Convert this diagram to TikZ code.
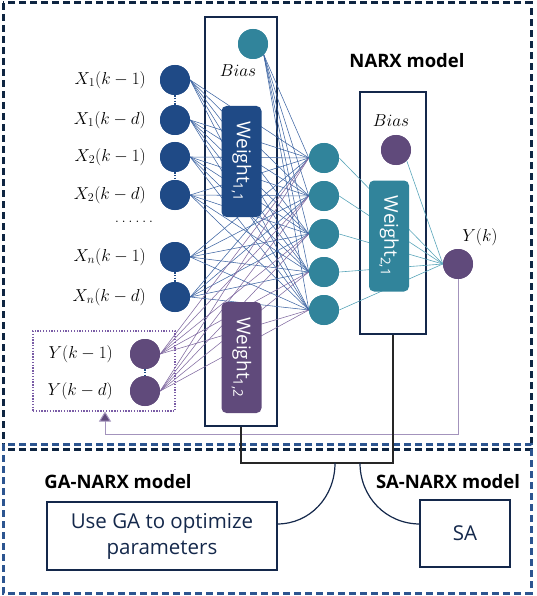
\documentclass[tikz,border=0pt]{standalone}
\usepackage{fontspec}
\newfontfamily\osans{Open Sans}
\usetikzlibrary{arrows.meta}
\definecolor{cblue}{HTML}{1F4A86}
\definecolor{cteal}{HTML}{31849B}
\definecolor{cpurple}{HTML}{604A7B}
\definecolor{cframe}{HTML}{14284B}
\definecolor{cdashdark}{HTML}{0E2542}
\definecolor{cdashblue}{HTML}{2C5590}
\definecolor{cxline}{HTML}{3F66A3}
\definecolor{cyline}{HTML}{8069A0}
\definecolor{ctline}{HTML}{5AA6BA}
\definecolor{cfb}{HTML}{A393BC}
\definecolor{cybox}{HTML}{7A5CA6}
\begin{document}
\begin{tikzpicture}[x=1pt,y=-1pt,
  neuron/.style={circle, minimum size=30pt, inner sep=0pt},
  inN/.style={neuron, fill=cblue},
  hidN/.style={neuron, fill=cteal},
  purN/.style={neuron, fill=cpurple},
  wbox/.style={rounded corners=5pt, minimum width=111pt, minimum height=40pt, inner sep=0pt, rotate=-90, text=white, font=\osans\fontsize{19}{22}\selectfont},
  frame/.style={draw=cframe, line width=1.5pt, inner sep=0pt},
  lbl/.style={font=\fontsize{17}{20}\selectfont, inner sep=0pt},
  title/.style={font=\osans\bfseries\fontsize{18.5}{22}\selectfont, inner sep=0pt},
  xline/.style={draw=cxline, line width=0.55pt},
  yline/.style={draw=cyline, line width=0.55pt},
  tline/.style={draw=ctline, line width=0.6pt},
  pairdot/.style={draw=cblue, line width=1.6pt, dash pattern=on 1.5pt off 1.2pt},
  outerdash/.style={line width=3pt, dash pattern=on 7pt off 4pt},
  conn/.style={draw=cframe, line width=1.5pt},
  bigtext/.style={font=\osans\fontsize{20.5}{26}\selectfont, text=cframe, align=center}
]
\useasboundingbox (0,0) rectangle (537,596);
% outer dashed frames
\draw[outerdash, draw=cdashdark] (3,3) rectangle (531,449);
\draw[outerdash, draw=cdashblue] (3,444) rectangle (531,593);

% layer frames
\node[frame, minimum width=72pt, minimum height=409pt] (L1) at (241,221.5) {};
\node[frame, minimum width=66pt, minimum height=242pt] (L2) at (393,213) {};

% input nodes
\node[inN] (x1a) at (175,80) {};
\node[inN] (x1b) at (175,120) {};
\node[inN] (x2a) at (175,157) {};
\node[inN] (x2b) at (175,195) {};
\node[inN] (xna) at (175,257) {};
\node[inN] (xnb) at (175,297) {};
\node[purN] (y1) at (145,354) {};
\node[purN] (y2) at (145,391) {};
\node[hidN] (b1) at (253,44) {};

% hidden nodes
\node[hidN] (h1) at (324,158) {};
\node[hidN] (h2) at (324,196) {};
\node[hidN] (h3) at (324,234) {};
\node[hidN] (h4) at (324,272) {};
\node[hidN] (h5) at (324,310) {};

\node[purN] (b2) at (396,150) {};
\node[purN] (yk) at (458,264) {};

% connections layer 1
\foreach \s in {x1a,x1b,x2a,x2b,xna,xnb}{
  \foreach \h in {h1,h2,h3,h4,h5}{
    \draw[xline] (\s.east) -- (\h.west);
  }
}
\foreach \s in {y1,y2}{
  \foreach \h in {h1,h2,h3,h4,h5}{
    \draw[yline] (\s.east) -- (\h.west);
  }
}
\foreach \h in {h1,h2,h3,h4,h5}{
  \draw[xline] (b1.south east) -- (\h.west);
  \draw[tline] (\h.east) -- (yk.west);
}
\draw[tline] (b2.south east) -- (yk.west);

% redraw nodes on top
\foreach \n in {x1a,x1b,x2a,x2b,xna,xnb}{\fill[cblue] (\n) circle (15pt);}
\foreach \n in {h1,h2,h3,h4,h5,b1}{\fill[cteal] (\n) circle (15pt);}
\foreach \n in {y1,y2,b2,yk}{\fill[cpurple] (\n) circle (15pt);}

% pair dots
\draw[pairdot] (x1a.south) -- (x1b.north);
\draw[pairdot] (x2a.south) -- (x2b.north);
\draw[pairdot] (xna.south) -- (xnb.north);
\draw[pairdot] (y1.south) -- (y2.north);

% weight boxes
\node[wbox, fill=cblue] (w11) at (241.5,161.5) {Weight\textsubscript{1,1}};
\node[wbox, fill=cpurple] (w12) at (241.5,357.5) {Weight\textsubscript{1,2}};
\node[wbox, fill=cteal] (w21) at (389,236) {Weight\textsubscript{2,1}};

% labels
\node[lbl, anchor=east] (lx1a) at (146,80) {$X_1(k-1)$};
\node[lbl, anchor=east] (lx1b) at (146,120) {$X_1(k-d)$};
\node[lbl, anchor=east] (lx2a) at (146,157) {$X_2(k-1)$};
\node[lbl, anchor=east] (lx2b) at (146,195) {$X_2(k-d)$};
\node[lbl] (ldots) at (134,222) {.\kern2.6pt.\kern2.6pt.\kern2.6pt.\kern2.6pt.\kern2.6pt.};
\node[lbl, anchor=east] (lxna) at (146,257) {$X_n(k-1)$};
\node[lbl, anchor=east] (lxnb) at (146,297) {$X_n(k-d)$};
\node[lbl, anchor=east] (ly1) at (113,354) {$Y(k-1)$};
\node[lbl, anchor=east] (ly2) at (113,391) {$Y(k-d)$};
\node[lbl] (lb1) at (238,71) {$Bias$};
\node[lbl] (lb2) at (391,121) {$Bias$};
\node[lbl] (lyk) at (480,237) {$Y(k)$};

% Y feedback box and arrow
\node[draw=cybox, line width=1.1pt, dash pattern=on 1.3pt off 1.5pt, minimum width=142pt, minimum height=80pt, inner sep=0pt] (ybox) at (104,371) {};
\coordinate (fbc) at (105,434);
\draw[draw=cfb, line width=1pt, -{Triangle[width=12pt,length=10pt,fill=cpurple]}] (yk.south) |- (fbc) -- (fbc |- ybox.south);

% titles
\node[title] (tnarx) at (407,61) {NARX model};
\node[title] (tga) at (118,482) {GA-NARX model};
\node[title] (tsa) at (448,482) {SA-NARX model};

% bottom boxes
\node[frame, minimum width=230pt, minimum height=68pt, bigtext] (ga) at (162,536) {Use GA to optimize\\parameters};
\node[frame, minimum width=90pt, minimum height=67pt, bigtext] (sa) at (465,533.5) {SA};

% connectors
\coordinate (cj1) at (241,463);
\draw[conn, draw=black!85] (L1.south) -- (cj1) -| (L2.south);
\coordinate (a1) at (335,463);
\coordinate (a2) at (360,463);
\coordinate (gain) at (277,524);
\coordinate (sain) at (420,524);
\draw[conn, line width=1.2pt] (a1) .. controls (335,497) and (310,524) .. (gain);
\draw[conn, line width=1.2pt] (a2) .. controls (360,497) and (386,524) .. (sain);
\end{tikzpicture}
\end{document}
